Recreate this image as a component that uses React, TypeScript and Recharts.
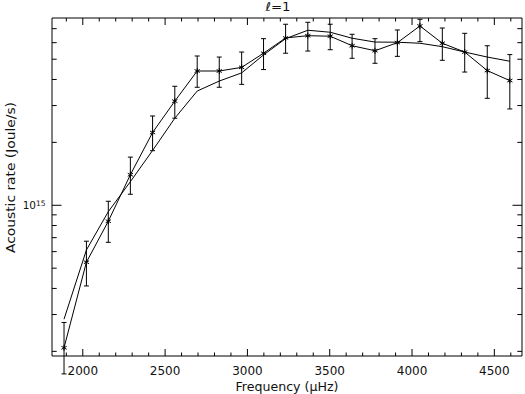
import React from 'react';
import { LineChart, Line, XAxis, YAxis, ErrorBar } from 'recharts';

const frequencies = [1886, 2022, 2155, 2289, 2424, 2559, 2695, 2829, 2965, 3098, 3232, 3367, 3503, 3636, 3775, 3911, 4048, 4184, 4320, 4457, 4594];
const observed = [2.08e14, 5.34e14, 8.39e14, 1.40e15, 2.23e15, 3.15e15, 4.39e15, 4.39e15, 4.57e15, 5.34e15, 6.32e15, 6.48e15, 6.44e15, 5.80e15, 5.49e15, 6.00e15, 7.21e15, 5.96e15, 5.41e15, 4.41e15, 3.95e15];
const observedLow = [1.56e14, 4.11e14, 6.65e14, 1.129e15, 1.825e15, 2.61e15, 3.67e15, 3.67e15, 3.79e15, 4.46e15, 5.34e15, 5.47e15, 5.55e15, 5.05e15, 4.78e15, 5.16e15, 6.07e15, 4.94e15, 4.34e15, 3.25e15, 2.89e15];
const observedHigh = [2.75e14, 6.73e14, 1.045e15, 1.70e15, 2.675e15, 3.71e15, 5.18e15, 5.12e15, 5.41e15, 6.27e15, 7.35e15, 7.51e15, 7.35e15, 6.58e15, 6.27e15, 6.90e15, 7.76e15, 7.05e15, 6.65e15, 5.80e15, 5.26e15];
const model = [2.85e14, 6.11e14, 9.32e14, 1.297e15, 1.829e15, 2.61e15, 3.52e15, 3.93e15, 4.30e15, 5.24e15, 6.27e15, 6.88e15, 6.73e15, 6.30e15, 6.04e15, 6.03e15, 5.96e15, 5.74e15, 5.41e15, 5.12e15, 4.89e15];

const xTicks = [1900, 2000, 2100, 2200, 2300, 2400, 2500, 2600, 2700, 2800, 2900, 3000, 3100, 3200, 3300, 3400, 3500, 3600, 3700, 3800, 3900, 4000, 4100, 4200, 4300, 4400, 4500, 4600];
const xMajorTicks = [2000, 2500, 3000, 3500, 4000, 4500];
const yTicks = [2e14, 3e14, 4e14, 5e14, 6e14, 7e14, 8e14, 9e14, 1e15, 2e15, 3e15, 4e15, 5e15, 6e15, 7e15];
const yMajorTicks = [1e15];

const title = 'ℓ=1';
const xTitle = 'Frequency (μHz)';
const yTitle = 'Acoustic rate (Joule/s)';

const data = frequencies.map((f, i) => ({
  freq: f,
  obs: observed[i],
  obsErr: [observed[i] - observedLow[i], observedHigh[i] - observed[i]],
  model: model[i],
}));

const FONT = '"DejaVu Sans", sans-serif';
const X_DOMAIN: [number, number] = [1813, 4668];
const Y_DOMAIN: [number, number] = [1.9e14, 7.873e15];

const BottomTick = (props: any) => {
  const { x, y, payload } = props;
  const major = xMajorTicks.includes(payload.value);
  return (
    <g>
      <line x1={x} x2={x} y1={y} y2={y - (major ? 7 : 3.5)} stroke="#000" strokeWidth={1} />
      {major && (
        <text x={x} y={y + 18.5} textAnchor="middle" fontSize={12} fontFamily={FONT} fill="#111">
          {payload.value}
        </text>
      )}
    </g>
  );
};

const TopTick = (props: any) => {
  const { x, y, payload } = props;
  const major = xMajorTicks.includes(payload.value);
  return <line x1={x} x2={x} y1={y} y2={y + (major ? 7 : 3.5)} stroke="#000" strokeWidth={1} />;
};

const LeftTick = (props: any) => {
  const { x, y, payload } = props;
  const major = yMajorTicks.includes(payload.value);
  const exp = Math.round(Math.log10(payload.value));
  return (
    <g>
      <line x1={x} x2={x + (major ? 9.5 : 4.7)} y1={y} y2={y} stroke="#000" strokeWidth={1} />
      {major && (
        <g fontFamily={FONT} fill="#111">
          <text x={x - 16} y={y + 3.8} textAnchor="end" fontSize={10.5}>10</text>
          <text x={x - 16} y={y + 0.8} textAnchor="start" fontSize={7.5}>{exp}</text>
        </g>
      )}
    </g>
  );
};

const RightTick = (props: any) => {
  const { x, y, payload } = props;
  const major = yMajorTicks.includes(payload.value);
  return <line x1={x} x2={x - (major ? 9.5 : 4.7)} y1={y} y2={y} stroke="#000" strokeWidth={1} />;
};

const Asterisk = (props: any) => {
  const { cx, cy, index } = props;
  if (cx == null || cy == null) return <g key={`d-${index}`} />;
  const r = 3;
  const d = r * 0.87;
  return (
    <g key={`d-${index}`} stroke="#000" strokeWidth={1}>
      <line x1={cx} x2={cx} y1={cy - r} y2={cy + r} />
      <line x1={cx - d} x2={cx + d} y1={cy - r / 2} y2={cy + r / 2} />
      <line x1={cx - d} x2={cx + d} y1={cy + r / 2} y2={cy - r / 2} />
    </g>
  );
};

export default function App() {
  return (
    <div style={{ position: 'absolute', left: 0, top: 0, width: 525, height: 394, background: '#fff' }}>
      <LineChart
        width={525}
        height={394}
        data={data}
        margin={{ top: 17, right: 2, left: 0, bottom: 0 }}
      >
        <XAxis
          xAxisId="bottom"
          dataKey="freq"
          type="number"
          domain={X_DOMAIN}
          allowDataOverflow
          ticks={xTicks}
          interval={0}
          height={38}
          tickSize={0}
          tickMargin={0}
          tickLine={false}
          axisLine={{ stroke: '#000', strokeWidth: 1 }}
          tick={<BottomTick />}
        />
        <XAxis
          xAxisId="top"
          orientation="top"
          dataKey="freq"
          type="number"
          domain={X_DOMAIN}
          allowDataOverflow
          ticks={xTicks}
          interval={0}
          height={1}
          tickSize={0}
          tickMargin={0}
          tickLine={false}
          axisLine={{ stroke: '#000', strokeWidth: 1 }}
          tick={<TopTick />}
        />
        <YAxis
          yAxisId="left"
          type="number"
          scale="log"
          domain={Y_DOMAIN}
          allowDataOverflow
          ticks={yTicks}
          interval={0}
          width={52}
          tickSize={0}
          tickMargin={0}
          tickLine={false}
          axisLine={{ stroke: '#000', strokeWidth: 1 }}
          tick={<LeftTick />}
        />
        <YAxis
          yAxisId="right"
          orientation="right"
          type="number"
          scale="log"
          domain={Y_DOMAIN}
          allowDataOverflow
          ticks={yTicks}
          interval={0}
          width={1}
          tickSize={0}
          tickMargin={0}
          tickLine={false}
          axisLine={{ stroke: '#000', strokeWidth: 1 }}
          tick={<RightTick />}
        />
        <Line
          xAxisId="top"
          yAxisId="right"
          type="linear"
          dataKey="model"
          stroke="none"
          strokeWidth={0}
          dot={false}
          activeDot={false}
          legendType="none"
          isAnimationActive={false}
        />
        <Line
          xAxisId="bottom"
          yAxisId="left"
          type="linear"
          dataKey="model"
          stroke="#000"
          strokeWidth={1}
          dot={false}
          activeDot={false}
          isAnimationActive={false}
        />
        <Line
          xAxisId="bottom"
          yAxisId="left"
          type="linear"
          dataKey="obs"
          stroke="#000"
          strokeWidth={1}
          dot={<Asterisk />}
          activeDot={false}
          isAnimationActive={false}
        >
          <ErrorBar dataKey="obsErr" direction="y" width={2.5} stroke="#000" strokeWidth={1} isAnimationActive={false} />
        </Line>
        <text x={278} y={11} textAnchor="middle" fontSize={12} fontFamily={FONT} fill="#111" textLength={25} lengthAdjust="spacingAndGlyphs">
          {title}
        </text>
        <text x={287} y={391} textAnchor="middle" fontSize={12.5} fontFamily={FONT} fill="#111" textLength={103} lengthAdjust="spacingAndGlyphs">
          {xTitle}
        </text>
        <text
          x={0}
          y={0}
          transform="translate(14.5,177.5) rotate(-90)"
          textAnchor="middle"
          fontSize={12.5}
          fontFamily={FONT}
          fill="#111"
          textLength={151}
          lengthAdjust="spacingAndGlyphs"
        >
          {yTitle}
        </text>
      </LineChart>
    </div>
  );
}
